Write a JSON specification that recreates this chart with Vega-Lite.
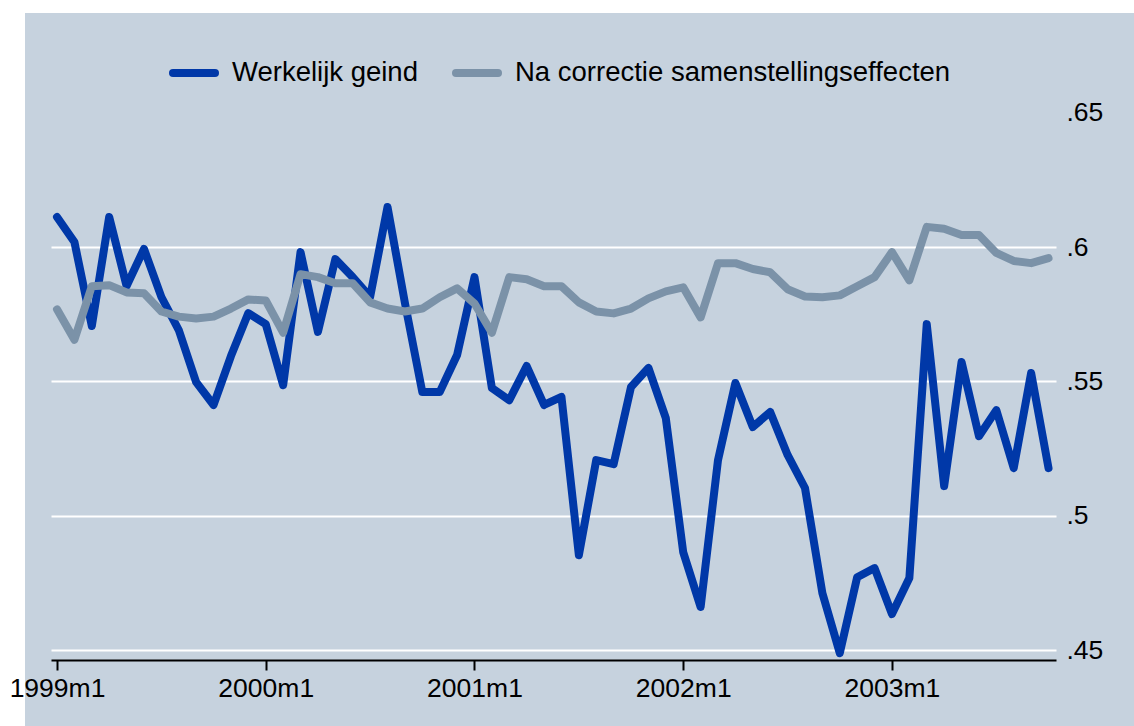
{
  "$schema": "https://vega.github.io/schema/vega-lite/v6.json",
  "width": 1109,
  "height": 713,
  "autosize": {"type": "none"},
  "padding": {"left": 25, "top": 13, "right": 0, "bottom": 0},
  "background": "white",
  "config": {
    "view": {"fill": "#c6d2de", "stroke": null},
    "font": "Liberation Sans"
  },
  "data": {
    "values": [
      {"t": 0, "geind": 0.6112, "gecorrigeerd": 0.5768},
      {"t": 1, "geind": 0.6019, "gecorrigeerd": 0.5655},
      {"t": 2, "geind": 0.5706, "gecorrigeerd": 0.5854},
      {"t": 3, "geind": 0.6112, "gecorrigeerd": 0.5858},
      {"t": 4, "geind": 0.5855, "gecorrigeerd": 0.5831},
      {"t": 5, "geind": 0.5993, "gecorrigeerd": 0.5828},
      {"t": 6, "geind": 0.5814, "gecorrigeerd": 0.576},
      {"t": 7, "geind": 0.5691, "gecorrigeerd": 0.5741},
      {"t": 8, "geind": 0.5497, "gecorrigeerd": 0.5734},
      {"t": 9, "geind": 0.5412, "gecorrigeerd": 0.5741},
      {"t": 10, "geind": 0.5594, "gecorrigeerd": 0.5771},
      {"t": 11, "geind": 0.5754, "gecorrigeerd": 0.5805},
      {"t": 12, "geind": 0.5713, "gecorrigeerd": 0.5801},
      {"t": 13, "geind": 0.5486, "gecorrigeerd": 0.5681},
      {"t": 14, "geind": 0.5981, "gecorrigeerd": 0.5899},
      {"t": 15, "geind": 0.5684, "gecorrigeerd": 0.5888},
      {"t": 16, "geind": 0.5955, "gecorrigeerd": 0.5865},
      {"t": 17, "geind": 0.5888, "gecorrigeerd": 0.5865},
      {"t": 18, "geind": 0.5814, "gecorrigeerd": 0.5794},
      {"t": 19, "geind": 0.6149, "gecorrigeerd": 0.5771},
      {"t": 20, "geind": 0.5792, "gecorrigeerd": 0.576},
      {"t": 21, "geind": 0.546, "gecorrigeerd": 0.5771},
      {"t": 22, "geind": 0.546, "gecorrigeerd": 0.5813},
      {"t": 23, "geind": 0.5598, "gecorrigeerd": 0.5846},
      {"t": 24, "geind": 0.5888, "gecorrigeerd": 0.579},
      {"t": 25, "geind": 0.5475, "gecorrigeerd": 0.5681},
      {"t": 26, "geind": 0.543, "gecorrigeerd": 0.5888},
      {"t": 27, "geind": 0.5557, "gecorrigeerd": 0.588},
      {"t": 28, "geind": 0.5412, "gecorrigeerd": 0.5854},
      {"t": 29, "geind": 0.5442, "gecorrigeerd": 0.5854},
      {"t": 30, "geind": 0.4853, "gecorrigeerd": 0.5794},
      {"t": 31, "geind": 0.5207, "gecorrigeerd": 0.576},
      {"t": 32, "geind": 0.5192, "gecorrigeerd": 0.5753},
      {"t": 33, "geind": 0.5479, "gecorrigeerd": 0.5771},
      {"t": 34, "geind": 0.555, "gecorrigeerd": 0.5809},
      {"t": 35, "geind": 0.5363, "gecorrigeerd": 0.5835},
      {"t": 36, "geind": 0.4864, "gecorrigeerd": 0.585},
      {"t": 37, "geind": 0.466, "gecorrigeerd": 0.5738},
      {"t": 38, "geind": 0.5207, "gecorrigeerd": 0.594},
      {"t": 39, "geind": 0.5494, "gecorrigeerd": 0.594},
      {"t": 40, "geind": 0.533, "gecorrigeerd": 0.5918},
      {"t": 41, "geind": 0.5386, "gecorrigeerd": 0.5906},
      {"t": 42, "geind": 0.5226, "gecorrigeerd": 0.5843},
      {"t": 43, "geind": 0.5103, "gecorrigeerd": 0.5816},
      {"t": 44, "geind": 0.4712, "gecorrigeerd": 0.5813},
      {"t": 45, "geind": 0.4488, "gecorrigeerd": 0.582},
      {"t": 46, "geind": 0.4771, "gecorrigeerd": 0.5854},
      {"t": 47, "geind": 0.4805, "gecorrigeerd": 0.5888},
      {"t": 48, "geind": 0.4634, "gecorrigeerd": 0.5981},
      {"t": 49, "geind": 0.4768, "gecorrigeerd": 0.5876},
      {"t": 50, "geind": 0.5713, "gecorrigeerd": 0.6075},
      {"t": 51, "geind": 0.511, "gecorrigeerd": 0.6068},
      {"t": 52, "geind": 0.5572, "gecorrigeerd": 0.6045},
      {"t": 53, "geind": 0.5296, "gecorrigeerd": 0.6045},
      {"t": 54, "geind": 0.5393, "gecorrigeerd": 0.5978},
      {"t": 55, "geind": 0.5177, "gecorrigeerd": 0.5948},
      {"t": 56, "geind": 0.5531, "gecorrigeerd": 0.594},
      {"t": 57, "geind": 0.5177, "gecorrigeerd": 0.5959}
    ]
  },
  "transform": [
    {"fold": ["geind", "gecorrigeerd"], "as": ["series", "value"]}
  ],
  "encoding": {
    "x": {
      "field": "t",
      "type": "quantitative",
      "scale": {"domain": [-0.345, 57.43], "range": [26, 1031], "nice": false, "zero": false},
      "axis": {
        "title": null,
        "values": [0, 12, 24, 36, 48],
        "labelExpr": "(1999 + datum.value / 12) + 'm1'",
        "grid": false,
        "domain": true,
        "domainColor": "#000000",
        "domainWidth": 2,
        "ticks": true,
        "tickColor": "#000000",
        "tickWidth": 2,
        "tickSize": 10,
        "labelFontSize": 26.5,
        "labelColor": "#000000",
        "labelPadding": 5,
        "labelFlush": false,
        "labelOverlap": false,
        "offset": -66
      }
    }
  },
  "layer": [
    {
      "mark": {"type": "line", "opacity": 0, "strokeWidth": 1},
      "encoding": {
        "y": {
          "field": "value",
          "type": "quantitative",
          "scale": {"domain": [0.45, 0.65], "range": [637, 99.7], "nice": false, "zero": false},
          "axis": {
            "orient": "left",
            "title": null,
            "values": [0.45, 0.5, 0.55, 0.6],
            "labels": false,
            "domain": false,
            "ticks": false,
            "grid": true,
            "gridColor": "#ffffff",
            "gridWidth": 2
          }
        },
        "detail": {"field": "series", "type": "nominal"}
      }
    },
    {
      "mark": {"type": "line", "strokeWidth": 8, "strokeJoin": "round", "strokeCap": "round"},
      "encoding": {
        "y": {
          "field": "value",
          "type": "quantitative",
          "scale": {"domain": [0.45, 0.65], "range": [637, 99.7], "nice": false, "zero": false},
          "axis": {
            "orient": "right",
            "title": null,
            "values": [0.45, 0.5, 0.55, 0.6, 0.65],
            "labelExpr": "replace(format(datum.value, '.2~f'), '0.', '.')",
            "domain": false,
            "ticks": false,
            "tickSize": 0,
            "grid": false,
            "labelFontSize": 26.5,
            "labelColor": "#000000",
            "labelPadding": 10,
            "labelAlign": "left",
            "labelBaseline": "middle",
            "offset": -78
          }
        },
        "color": {
          "field": "series",
          "type": "nominal",
          "scale": {"domain": ["geind", "gecorrigeerd"], "range": ["#0038a8", "#7b92a8"]},
          "legend": {
            "title": null,
            "orient": "none",
            "direction": "horizontal",
            "legendX": 144,
            "legendY": 35,
            "padding": 0,
            "symbolType": "stroke",
            "symbolSize": 1764,
            "symbolStrokeWidth": 8,
            "labelFontSize": 27.5,
            "labelColor": "#000000",
            "labelOffset": 13,
            "columnPadding": 22,
            "labelExpr": "datum.label == 'geind' ? 'Werkelijk geind' : 'Na correctie samenstellingseffecten'",
            "labelLimit": 600,
            "encode": {"symbols": {"update": {"strokeCap": {"value": "round"}}}}
          }
        }
      }
    }
  ],
  "resolve": {"axis": {"y": "independent"}}
}
